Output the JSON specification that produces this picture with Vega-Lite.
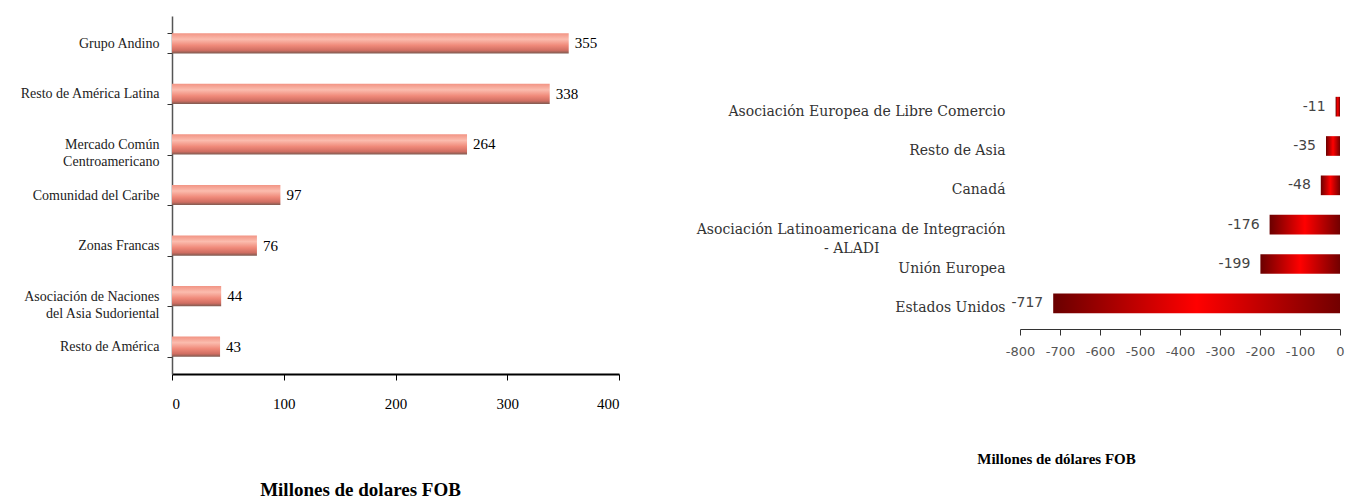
{
  "$schema": "https://vega.github.io/schema/vega-lite/v6.json",
  "padding": {"left": 19, "top": 9, "right": 0, "bottom": 0},
  "background": "white",
  "config": {"view": {"stroke": null}},
  "spacing": 76,
  "hconcat": [
    {
      "width": 447,
      "height": 358,
      "data": {"values": [
        {"region": "Grupo Andino", "value": 355},
        {"region": "Resto de América Latina", "value": 338},
        {"region": "Mercado Común|Centroamericano", "value": 264},
        {"region": "Comunidad del Caribe", "value": 97},
        {"region": "Zonas Francas", "value": 76},
        {"region": "Asociación de Naciones|del Asia Sudoriental", "value": 44},
        {"region": "Resto de América", "value": 43}
      ]},
      "encoding": {
        "y": {
          "field": "region", "type": "nominal", "sort": null,
          "scale": {"paddingInner": 0.6, "paddingOuter": 0.34},
          "axis": {
            "title": null,
            "labelExpr": "split(datum.label, '|')",
            "labelFont": "Liberation Serif", "labelFontSize": 14, "labelColor": "#222",
            "labelLineHeight": 17,
            "tickBand": "extent", "ticks": true, "tickSize": 5, "tickColor": "#333",
            "domainColor": "#555", "domainWidth": 1.5, "labelPadding": 8, "labelLimit": 300
          }
        },
        "x": {
          "field": "value", "type": "quantitative",
          "scale": {"domain": [0, 400]},
          "axis": {
            "values": [0, 100, 200, 300, 400], "grid": false,
            "domainColor": "#000", "domainWidth": 2, "tickColor": "#000", "tickSize": 6,
            "labelFont": "Liberation Serif", "labelFontSize": 15, "labelColor": "#000", "labelPadding": 16,
            "title": "Millones de dolares FOB", "titleFont": "Liberation Serif", "titleFontSize": 19,
            "titleFontWeight": "bold", "titleColor": "#000",
            "titleX": 188, "titleY": 121, "titleAlign": "center", "titleBaseline": "alphabetic"
          }
        }
      },
      "layer": [
        {
          "mark": {
            "type": "bar",
            "fill": {
              "gradient": "linear", "x1": 0, "y1": 0, "x2": 0, "y2": 1,
              "stops": [
                {"offset": 0, "color": "#f29484"},
                {"offset": 0.3, "color": "#fbbcae"},
                {"offset": 0.6, "color": "#f08a7a"},
                {"offset": 0.85, "color": "#d06e62"},
                {"offset": 1, "color": "#7d5a50"}
              ]
            }
          }
        },
        {
          "mark": {"type": "text", "align": "left", "baseline": "middle", "dx": 6,
                   "font": "Liberation Serif", "fontSize": 15, "color": "#000"},
          "encoding": {"text": {"field": "value", "type": "nominal"}}
        }
      ]
    },
    {
      "width": 320,
      "height": 313,
      "data": {"values": [
        {"region": "Asociación Europea de Libre Comercio", "value": -11},
        {"region": "Resto de Asia", "value": -35},
        {"region": "Canadá", "value": -48},
        {"region": "Asociación Latinoamericana de Integración|- ALADI", "value": -176},
        {"region": "Unión Europea", "value": -199},
        {"region": "Estados Unidos", "value": -717}
      ]},
      "encoding": {
        "y": {
          "field": "region", "type": "nominal", "sort": null,
          "scale": {"range": [71, 307], "paddingInner": 0.5, "paddingOuter": 0.25},
          "axis": {
            "title": null, "domain": false, "ticks": false,
            "labelExpr": "indexof(datum.label, '|') >= 0 ? [split(datum.label, '|')[0], split(datum.label, '|')[1] + '\u2003\u2003\u2003\u2003\u2003\u2003\u2003\u2003\u2003\u200b'] : datum.label",
            "labelFont": "DejaVu Serif", "labelFontSize": 14, "labelColor": "#333",
            "labelLineHeight": 19, "labelPadding": 15, "labelLimit": 400, "labelOffset": 5
          }
        },
        "x": {
          "field": "value", "type": "quantitative",
          "scale": {"domain": [-800, 0]},
          "axis": {
            "values": [-800, -700, -600, -500, -400, -300, -200, -100, 0], "grid": false,
            "labelExpr": "replace(datum.label, '\u2212', '-')", "labelOverlap": false, "labelFlush": false,
            "domainColor": "#333", "tickColor": "#333", "tickSize": 6,
            "labelFont": "DejaVu Sans", "labelFontSize": 13, "labelColor": "#555", "labelPadding": 10,
            "title": "Millones de dólares FOB", "titleFont": "Liberation Serif", "titleFontSize": 15,
            "titleFontWeight": "bold", "titleColor": "#000",
            "titleX": 36, "titleY": 134, "titleAlign": "center", "titleBaseline": "alphabetic"
          }
        }
      },
      "layer": [
        {
          "mark": {
            "type": "bar",
            "fill": {
              "gradient": "linear", "x1": 0, "y1": 0, "x2": 1, "y2": 0,
              "stops": [
                {"offset": 0, "color": "#6a0000"},
                {"offset": 0.5, "color": "#ff0000"},
                {"offset": 1, "color": "#720000"}
              ]
            }
          }
        },
        {
          "mark": {"type": "text", "align": "right", "baseline": "middle", "dx": -10,
                   "font": "DejaVu Sans", "fontSize": 14, "color": "#444"},
          "encoding": {"text": {"field": "value", "type": "nominal"}}
        }
      ]
    }
  ]
}
